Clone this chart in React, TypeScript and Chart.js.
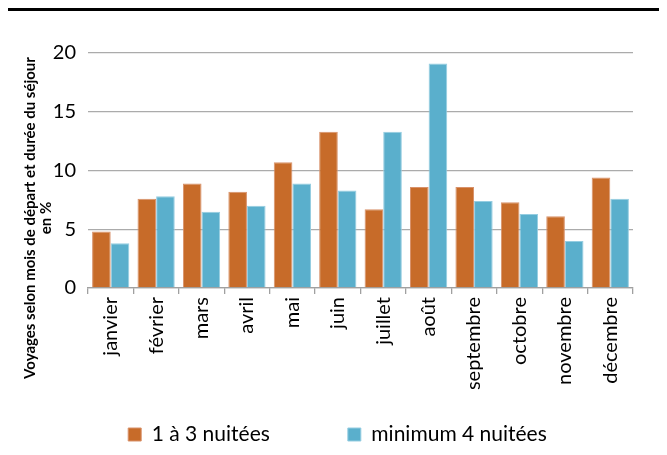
import React, { useEffect, useRef } from "react";
import { Chart, registerables } from "chart.js";

Chart.register(...registerables);

const categories = [
  "janvier", "février", "mars", "avril", "mai", "juin",
  "juillet", "août", "septembre", "octobre", "novembre", "décembre",
];
const shortStay = [4.8, 7.6, 8.9, 8.2, 10.7, 13.3, 6.7, 8.6, 8.6, 7.3, 6.1, 9.4];
const longStay = [3.8, 7.8, 6.5, 7.0, 8.9, 8.3, 13.3, 19.1, 7.4, 6.3, 4.0, 7.6];
const seriesNames = ["1 à 3 nuitées", "minimum 4 nuitées"];
const yTicks = [0, 5, 10, 15, 20];
const titleLines = ["Voyages selon mois de départ et durée du séjour", "en %"];

const FONT = "Lato, 'Open Sans', sans-serif";

const sideTitle = {
  id: "sideTitle",
  afterLayout(chart: any) {
    // let rotated month labels extend below the axis box without being clipped
    if (chart.scales.x) chart.scales.x.bottom = chart.height;
  },
  afterDraw(chart: any) {
    const ctx = chart.ctx;
    ctx.save();
    ctx.fillStyle = "#000";
    ctx.font = `bold 15px ${FONT}`;
    ctx.textAlign = "center";
    ctx.textBaseline = "middle";
    const xs = [22, 38];
    titleLines.forEach((t, i) => {
      ctx.save();
      ctx.translate(xs[i], 207);
      ctx.rotate(-Math.PI / 2);
      ctx.fillText(t, 0, 0);
      ctx.restore();
    });
    ctx.restore();
  },
};

export default function App() {
  const ref = useRef<HTMLCanvasElement>(null);
  useEffect(() => {
    if (!ref.current) return;
    const chart = new Chart(ref.current, {
      type: "bar",
      data: {
        labels: categories,
        datasets: [
          {
            label: seriesNames[0],
            data: shortStay,
            backgroundColor: "#C76B29",
            borderColor: "#D8916A",
            borderWidth: 1,
            barPercentage: 1,
            categoryPercentage: 0.82,
          },
          {
            label: seriesNames[1],
            data: longStay,
            backgroundColor: "#5AAFCC",
            borderColor: "#95CDE1",
            borderWidth: 1,
            barPercentage: 1,
            categoryPercentage: 0.82,
          },
        ],
      },
      options: {
        responsive: false,
        animation: false,
        layout: { padding: { top: 42, left: 0, right: 0, bottom: 0 } },
        plugins: {
          legend: {
            position: "bottom",
            labels: {
              boxWidth: 13,
              boxHeight: 13,
              padding: 78,
              color: "#000",
              font: { family: FONT, size: 21 },
            },
          },
          tooltip: { enabled: false },
        },
        scales: {
          x: {
            grid: {
              display: true,
              drawOnChartArea: false,
              drawTicks: true,
              tickLength: 6,
              color: "#A0A0A0",
              lineWidth: 1.3,
              offset: true,
            },
            border: { display: true, color: "#A0A0A0", width: 1.3 },
            ticks: {
              color: "#000",
              font: { family: FONT, size: 20 },
              maxRotation: 90,
              minRotation: 90,
              padding: 3,
              autoSkip: false,
            },
            afterFit(s: any) {
              s.height = 58;
            },
          },
          y: {
            min: 0,
            max: 20,
            afterBuildTicks(s: any) {
              s.ticks = yTicks.map((v) => ({ value: v }));
            },
            grid: { color: "#ABABAB", lineWidth: 1.3, drawTicks: false },
            border: { display: false },
            ticks: {
              color: "#000",
              font: { family: FONT, size: 20 },
              padding: 12,
            },
            afterFit(s: any) {
              s.width = 80;
            },
          },
          y2: {
            position: "right",
            display: true,
            grid: { display: false },
            border: { display: false },
            ticks: { display: false },
            afterFit(s: any) {
              s.width = 34;
            },
          },
        },
      },
      plugins: [sideTitle],
    });
    return () => chart.destroy();
  }, []);

  return (
    <div style={{ width: 659, borderTop: "3px solid #000" }}>
      <canvas ref={ref} width={659} height={444} style={{ display: "block" }} />
    </div>
  );
}
